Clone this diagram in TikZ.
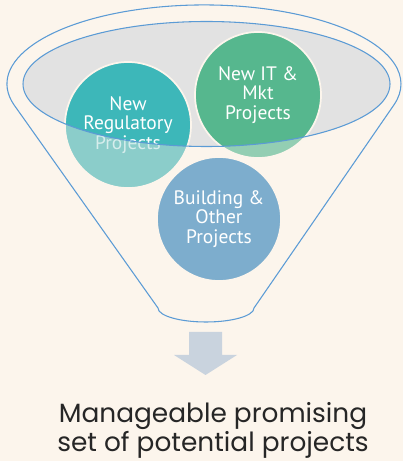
\documentclass[tikz,border=0pt]{standalone}
\usepackage{fontspec}
\setmainfont{PT Sans}
\newfontfamily\captionfont{Poppins}
\definecolor{paper}{HTML}{FCF5EC}
\definecolor{rimgray}{HTML}{E2E2E2}
\definecolor{rimline}{HTML}{5B9BD5}
\definecolor{tealdark}{HTML}{3DB7B9}
\definecolor{teallight}{HTML}{8BCDCA}
\definecolor{greendark}{HTML}{56B78E}
\definecolor{greenlight}{HTML}{93CEB3}
\definecolor{bluecircle}{HTML}{7DADCD}
\definecolor{arrowgray}{HTML}{C9D3DE}
\definecolor{ink}{HTML}{262626}
\tikzset{
  bubble/.style={circle, draw=paper, line width=1.3pt, text=white, align=center,
    inner sep=0pt, minimum size=94.5pt, font=\fontsize{14.6}{14.4}\selectfont},
  outline/.style={draw=rimline, line width=0.8pt},
  caption/.style={text=ink, align=center, font=\captionfont\fontsize{19.8}{21.9}\selectfont}
}
\begin{document}
\begin{tikzpicture}[x=0.75pt,y=0.75pt]
  \fill[paper] (0,0) rectangle (403,461);
  \useasboundingbox (0,0) rectangle (403,461);

  % funnel mouth
  \coordinate (rimc) at (206.5,377);
  \fill[rimgray] (rimc) ellipse [x radius=183.5, y radius=62.5];

  % project circles: pale where they hang below the mouth
  \coordinate (regc) at (128,336);
  \coordinate (itc) at (258,366);
  \coordinate (bldc) at (219,242);
  \fill[teallight] (regc) circle [radius=63];
  \fill[greenlight] (itc) circle [radius=63];
  \fill[bluecircle] (bldc) circle [radius=62];
  \begin{scope}
    \clip (rimc) ellipse [x radius=183.5, y radius=62.5];
    \fill[tealdark] (regc) circle [radius=63];
    \fill[greendark] (itc) circle [radius=63];
  \end{scope}

  \node[bubble] (reg) at (regc) {New\\Regulatory\\Projects};
  \node[bubble] (it) at (itc) {New IT \&\\Mkt\\Projects};
  \node[bubble, minimum size=93pt] (bld) at (bldc) {Building \&\\Other\\Projects};

  % text below the mouth line is faded
  \begin{scope}
    \clip (regc) circle [radius=62];
    \fill[teallight, opacity=.35, even odd rule] (regc) circle [radius=63]
      (rimc) ellipse [x radius=183.5, y radius=62.5];
  \end{scope}

  % funnel outlines
  \draw[outline] (rimc) ellipse [x radius=183.5, y radius=62.5];
  \draw[outline, line join=round] (13.7,356.6)
    arc [start angle=195, end angle=-15, x radius=197, y radius=79]
    -- (254,153)
    arc [start angle=0, end angle=-180, x radius=48, y radius=14]
    -- cycle;

  % down arrow
  \fill[arrowgray] (189,129) -- (222,129) -- (222,106) -- (237,106)
    -- (205.5,86) -- (174,106) -- (189,106) -- cycle;

  \node[caption] (result) at (213,31) {Manageable promising\\set of potential projects};
\end{tikzpicture}
\end{document}
